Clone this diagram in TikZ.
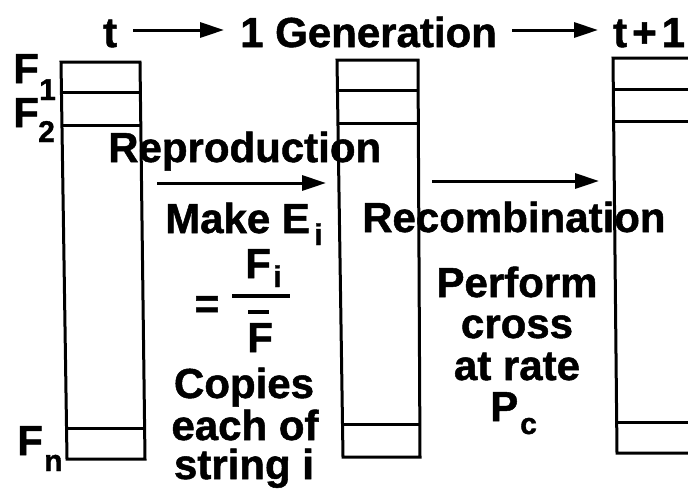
\documentclass[tikz,border=0pt]{standalone}
\usepackage{fontspec}
\setmainfont{Liberation Sans}[BoldFeatures={FakeBold=1.2}]
\usetikzlibrary{arrows.meta,calc}
\tikzset{
  big/.style={font=\fontsize{42}{42}\selectfont\bfseries, inner sep=0pt, anchor=base west, text height=30pt, text depth=0pt},
  bigc/.style={big, anchor=base},
  sub/.style={font=\fontsize{30}{30}\selectfont\bfseries, inner sep=0pt, anchor=base west, text height=21pt, text depth=0pt},
  boxline/.style={line width=3pt, line join=miter},
  bigarrow/.style={line width=3pt, -{Triangle[length=24pt,width=15pt]}},
}
\begin{document}
\begin{tikzpicture}[x=1pt,y=-1pt]
\useasboundingbox (0,0) rectangle (688,491);
\clip (0,0) rectangle (688,491);
% title
\node[big] (tt) at (103,47) {t};
\coordinate (ta1) at (133,30);
\coordinate (ta2) at (224,30);
\draw[bigarrow] (ta1) -- (ta2);
\node[big] (gen) at (240,47) {1 Generation};
\coordinate (tb1) at (512,30);
\coordinate (tb2) at (598,30);
\draw[bigarrow] (tb1) -- (tb2);
\node[big] (tp) at (613,47) {t\hspace{5pt}+\hspace{5pt}1};
% F labels
\node[big] (f1) at (13,83) {F};
\node[sub] (f1s) at (39,100) {1};
\node[big] (f2) at (13,127) {F};
\node[sub] (f2s) at (38,142) {2};
\node[big] (fn) at (17,455) {F};
\node[sub] (fns) at (44,471) {n};
% Reproduction
\node[big] (rep) at (108,162) {Reproduction};
\coordinate (ra1) at (157,183);
\coordinate (ra2) at (326,183);
\draw[bigarrow] (ra1) -- (ra2);
\node[big] (make) at (165,233) {Make E};
\node[sub] (makei) at (314,245) {i};
\node[bigc] (eq) at (207,318) {=};
\draw[line width=4pt] (232,296) -- (290,296);
\node[big] (num) at (245,278) {F};
\node[sub] (numi) at (273,287) {i};
\node[big] (den) at (247,352) {F};
\draw[line width=3.5pt] (248,312) -- (269,312);
\node[bigc] (cop) at (244,398) {Copies};
\node[bigc] (each) at (245,440) {each of};
\node[bigc] (str) at (244,479) {string i};
% Recombination
\node[big] (rec) at (362,232) {Recombination};
\coordinate (rb1) at (432,181);
\coordinate (rb2) at (599,181);
\draw[bigarrow] (rb1) -- (rb2);
\node[bigc] (perf) at (517,297) {Perform};
\node[bigc] (cross) at (517,338) {cross};
\node[bigc] (rate) at (517,380) {at rate};
\node[big] (pc) at (490,421) {P};
\node[sub] (pcs) at (520,434) {c};
% boxes
\foreach \nm/\tl/\tr/\br/\bl/\fa/\fb/\fc in {
  A/{61,62}/{140,62}/{145,459}/{67,459}/0.078/0.161/0.922,
  B/{337,60}/{418,60}/{420,457}/{343,457}/0.078/0.159/0.919,
  C/{613,58}/{702,58}/{704,453}/{617,453}/0.081/0.162/0.924}{
  \coordinate (\nm tl) at (\tl);
  \coordinate (\nm tr) at (\tr);
  \coordinate (\nm br) at (\br);
  \coordinate (\nm bl) at (\bl);
  \draw[boxline] (\nm tl) -- (\nm tr) -- (\nm br) -- (\nm bl) -- cycle;
  \draw[boxline] ($(\nm tl)!\fa!(\nm bl)$) -- ($(\nm tr)!\fa!(\nm br)$);
  \draw[boxline] ($(\nm tl)!\fb!(\nm bl)$) -- ($(\nm tr)!\fb!(\nm br)$);
  \draw[boxline] ($(\nm tl)!\fc!(\nm bl)$) -- ($(\nm tr)!\fc!(\nm br)$);
}
\end{tikzpicture}
\end{document}
